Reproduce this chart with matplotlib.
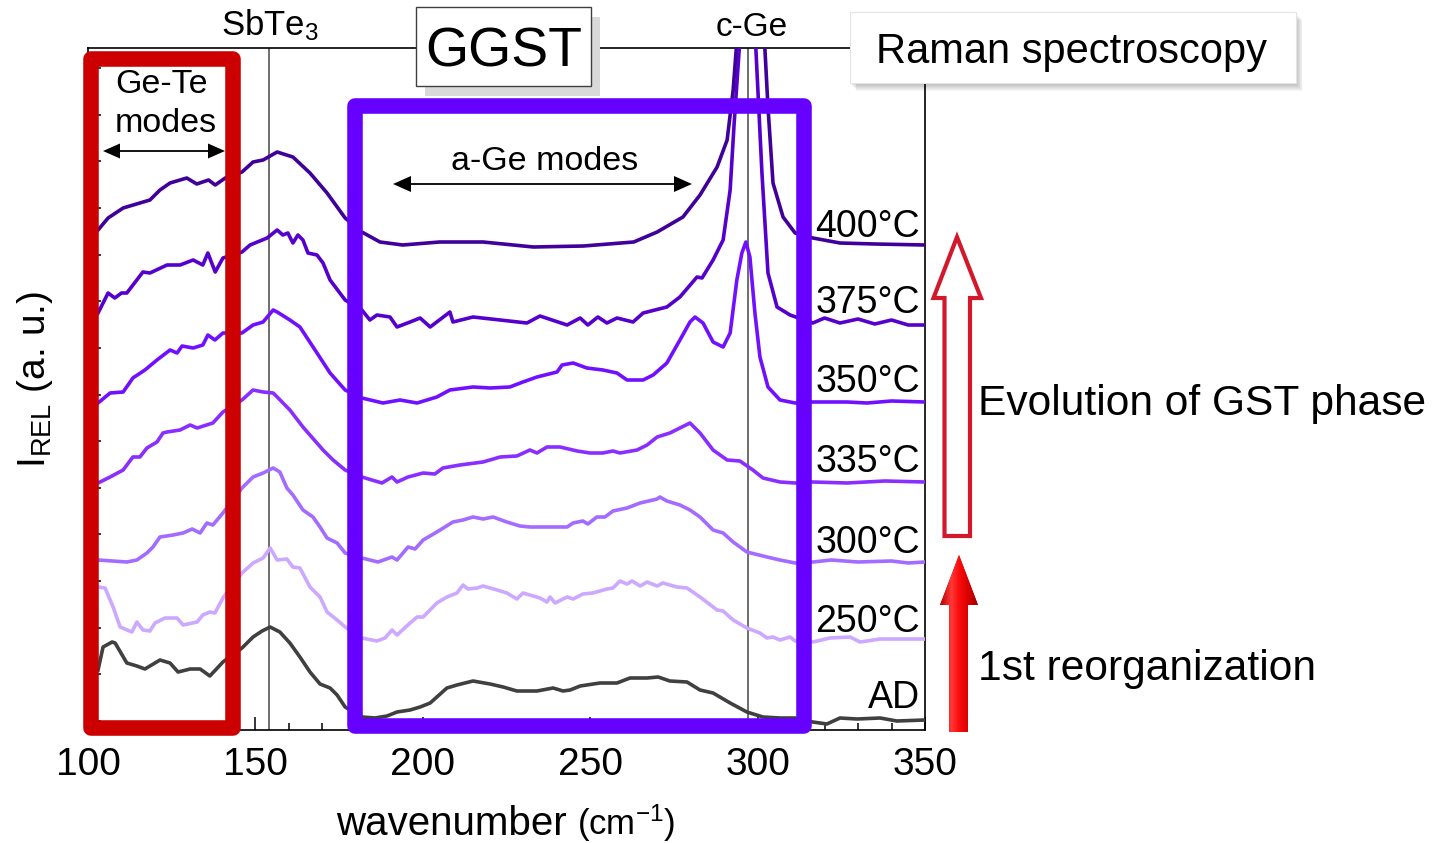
import numpy as np
import matplotlib
matplotlib.use("Agg")
import matplotlib.pyplot as plt
from matplotlib.patches import Rectangle, Polygon

plt.rcParams['font.family'] = ['Liberation Sans', 'DejaVu Sans']
plt.rcParams['mathtext.fontset'] = 'custom'
plt.rcParams['mathtext.rm'] = 'Liberation Sans'
plt.rcParams['mathtext.it'] = 'Liberation Sans:italic'
plt.rcParams['mathtext.bf'] = 'Liberation Sans:bold'

# ---------------- data (wavenumber in cm-1, intensity in a.u.) ----------------
labels = ['AD', '250°C', '300°C', '335°C', '350°C', '375°C', '400°C']

wn_ad = [103, 104.5, 107.2, 108.1, 111.6, 114.6, 117, 121.5, 124.5, 126.9, 130.5, 133.5, 136.4, 140.3, 146,
         149.3, 152, 154.4, 157.3, 160.3, 163.3, 166.3, 169.3, 172.3, 174.4, 176.8, 181.8, 185.7, 189.3, 192.3,
         196.2, 199.2, 202.2, 207.2, 210.2, 215, 220.1, 224, 228.1, 234.1, 238.9, 241.9, 244, 247, 252.9, 258,
         261.9, 267, 270.3, 273.8, 278.9, 282.8, 286.7, 291.8, 296.8, 301.6, 306.7, 311.2, 316.5, 320.7, 324.6,
         329.7, 336.6, 341.6, 350]
I_ad = [6.0, 8.3, 8.8, 8.7, 6.7, 6.4, 6.1, 7.0, 6.7, 5.8, 6.1, 6.1, 5.4, 6.8, 8.2, 9.3, 9.9, 10.3, 9.8, 8.7,
        7.3, 5.8, 4.6, 4.2, 3.5, 2.3, 1.3, 1.2, 1.4, 1.8, 2.0, 2.3, 2.7, 4.2, 4.5, 4.9, 4.6, 4.3, 3.9, 3.9,
        4.2, 3.9, 4.0, 4.4, 4.7, 4.7, 5.2, 5.2, 5.3, 4.9, 4.8, 4.0, 3.7, 2.7, 1.8, 1.3, 1.2, 1.2, 0.8, 0.6,
        1.2, 1.1, 1.2, 0.9, 1.0]

wn_250 = [103, 105.1, 107.5, 109.6, 113.1, 114.6, 116.4, 118.5, 120, 123, 126.6, 128.4, 132.6, 134.3, 136.4,
          137.9, 140.3, 146, 149.3, 152.3, 154.4, 156.5, 159.4, 161.2, 163.3, 166.3, 169.3, 171.4, 174.4, 176.8,
          181.8, 186.3, 188.7, 190.8, 192.3, 196.2, 198.3, 200.1, 204.2, 207.2, 210.2, 212, 213.5, 216.2, 218,
          222.2, 225.1, 228.1, 229.9, 235, 237.1, 238, 239.5, 243.1, 244.9, 247.8, 250.8, 255, 256.8, 258.9,
          261, 262.5, 264.9, 267, 270, 271.7, 275.9, 278.9, 282.8, 287.9, 289.7, 292.7, 296.8, 300.7, 302.8,
          304.6, 306.7, 309.7, 311.2, 316.5, 321.6, 327.6, 330.6, 336.6, 343, 350]
I_250 = [14.3, 14.2, 12.3, 10.3, 9.8, 10.8, 10.0, 9.9, 10.7, 11.2, 11.2, 10.5, 10.8, 11.5, 11.8, 11.7, 13.2,
         15.7, 16.7, 17.2, 18.2, 17.0, 17.1, 16.3, 16.2, 14.3, 13.3, 11.8, 11.0, 10.3, 9.2, 8.9, 9.2, 10.0,
         9.5, 10.7, 11.3, 11.3, 12.7, 13.3, 13.7, 14.5, 14.1, 14.2, 14.4, 14.0, 13.7, 13.1, 13.7, 13.2, 12.8,
         13.3, 12.7, 13.3, 13.1, 13.6, 13.7, 14.1, 14.2, 14.9, 14.6, 14.9, 14.4, 14.8, 14.4, 14.7, 14.3, 14.2,
         13.3, 12.0, 11.9, 11.0, 10.2, 9.7, 9.2, 9.3, 9.0, 9.3, 8.9, 8.8, 9.2, 9.3, 8.8, 9.1, 9.1, 9.1]

wn_300 = [103, 111.6, 114.6, 117.6, 119.4, 121.5, 125.4, 128.4, 131.1, 133.5, 135.5, 137.3, 140.3, 146, 149.3,
          152.3, 155.3, 157.3, 159.4, 161.2, 164.2, 167.2, 169.3, 171.4, 174.4, 176.8, 181.8, 186.6, 190.8,
          192.3, 195.6, 197.7, 200.1, 204.2, 209, 212, 215, 218, 221, 225.1, 229, 232, 238, 243.1, 244.9, 247.8,
          249.3, 252, 254.4, 256.8, 261, 264.9, 270, 270.8, 272.9, 276.8, 279.8, 282.8, 286.7, 289.7, 292.7,
          296.8, 302.8, 306.7, 311.2, 316.5, 322, 330, 340, 345, 350]
I_300 = [17.0, 16.8, 17.0, 17.7, 18.3, 19.3, 19.5, 19.7, 20.1, 19.7, 20.7, 20.5, 21.7, 24.2, 25.3, 25.7, 26.2,
         25.8, 24.2, 23.5, 22.0, 21.3, 20.3, 19.2, 18.7, 17.7, 17.2, 16.8, 17.3, 17.0, 18.3, 18.1, 19.0, 19.8,
         20.8, 21.0, 21.3, 21.1, 21.3, 20.8, 20.4, 20.3, 20.3, 20.3, 20.7, 20.9, 20.6, 21.3, 21.3, 21.9, 22.2,
         22.7, 23.1, 23.3, 22.9, 22.5, 22.0, 21.3, 20.0, 19.7, 18.8, 17.8, 17.3, 17.0, 16.7, 16.8, 17.0, 16.8,
         16.9, 16.7, 16.8]

wn_335 = [103, 106.6, 110.5, 113.4, 115.5, 117.6, 120.6, 122.4, 123.6, 127.5, 130.5, 132.6, 137.3, 140.3, 146,
          149.3, 152.3, 155.3, 156.5, 160.3, 164.2, 170.2, 173.2, 176.8, 181.8, 187.8, 190.8, 192.3, 195.6,
          200.1, 203.6, 206, 211.1, 218, 223.1, 228.1, 232, 234.1, 237.1, 241, 246.1, 249.9, 253.8, 256.8,
          258.9, 264, 267, 270, 273.8, 276.8, 279.8, 282.8, 286.7, 290.9, 294.7, 298.6, 301.6, 306.7, 311.2,
          316.5, 326.7, 338, 350]
I_335 = [24.7, 25.3, 26.0, 27.3, 27.3, 28.2, 28.8, 29.7, 29.8, 30.0, 30.5, 30.2, 30.7, 31.8, 33.0, 34.0, 33.8,
         33.7, 33.3, 32.0, 30.3, 28.0, 27.0, 26.0, 25.3, 24.7, 25.3, 24.8, 25.3, 25.7, 25.6, 26.2, 26.5, 26.8,
         27.3, 27.4, 28.0, 27.7, 28.3, 28.3, 27.9, 27.7, 27.7, 27.9, 27.7, 28.0, 28.5, 29.3, 29.7, 30.2, 30.7,
         29.7, 28.0, 27.0, 26.9, 26.0, 25.2, 24.8, 24.7, 24.8, 24.7, 24.9, 24.8]

wn_350 = [103, 106.6, 110.5, 113.4, 117, 120.6, 124.5, 126.6, 128.1, 131.4, 134.3, 135.8, 137.9, 140.3, 146,
          149.3, 152.3, 155.3, 156.5, 160.3, 163.3, 168.4, 172.3, 176.8, 181.8, 188.1, 193.2, 198.3, 204.2,
          208.1, 215, 220.1, 226, 229.9, 234.1, 240.1, 241.6, 244.9, 249, 253.8, 258, 261, 265.8, 268.8, 272.9,
          276.8, 279.8, 281.3, 283.7, 286.7, 289.7, 291.8, 293.8, 295.3, 296.5, 297.7, 299.2, 300.7, 303.1,
          306.7, 311.2, 316.5, 326.7, 332.7, 340, 350]
I_350 = [32.7, 33.7, 33.8, 35.2, 36.0, 37.0, 38.0, 37.7, 38.4, 38.2, 38.5, 39.5, 39.0, 39.7, 39.7, 40.5, 40.8,
         42.0, 41.8, 41.0, 40.3, 37.7, 35.7, 34.0, 33.2, 32.7, 33.0, 32.7, 33.3, 34.0, 34.3, 34.2, 34.3, 34.8,
         35.3, 35.8, 36.5, 36.7, 36.2, 36.0, 35.7, 35.0, 35.0, 35.5, 36.7, 39.0, 40.8, 41.3, 40.7, 38.8, 38.3,
         39.7, 45.0, 47.7, 48.8, 47.3, 41.7, 37.3, 34.3, 33.0, 32.7, 32.8, 32.8, 32.7, 32.9, 32.8]

wn_375 = [103, 106, 108, 110, 111.6, 116.4, 118.5, 123.6, 127.5, 131.4, 134.3, 135.8, 138, 140.3, 146, 148.4,
          153.5, 156.5, 158.2, 159.7, 161.2, 162.7, 164.2, 165.7, 168.4, 170.2, 172.3, 176.8, 181.8, 184.2,
          186.3, 190.2, 192.3, 196.2, 199.2, 202.2, 208.1, 209, 215, 223.1, 231.1, 235, 243.1, 247, 249.3,
          252.3, 255, 258, 262.8, 265.8, 272.9, 276.8, 281.9, 283.4, 286.7, 289.7, 291.8, 293.0, 294.5, 297,
          299.5, 301.3, 303.1, 305.8, 309.7, 316.5, 320, 324.6, 330, 335, 340, 345, 350]
I_375 = [41.7, 43.7, 43.2, 43.7, 43.7, 45.8, 45.7, 46.5, 46.5, 47.0, 46.5, 47.7, 45.8, 47.2, 47.8, 48.5, 49.2,
         50.0, 49.5, 49.7, 48.7, 49.5, 49.0, 47.7, 47.5, 46.7, 45.0, 43.0, 42.0, 41.0, 41.5, 41.3, 40.3, 40.8,
         41.2, 40.3, 41.8, 40.8, 41.3, 41.0, 40.7, 41.4, 40.5, 41.2, 40.5, 41.3, 40.7, 41.2, 40.8, 41.7, 42.3,
         43.3, 45.3, 45.2, 47.0, 49.0, 54.0, 60.7, 68.0, 95.0, 68.0, 55.7, 45.7, 42.3, 41.5, 40.7, 41.2, 40.7,
         41.1, 40.6, 41.0, 40.5, 40.5]

wn_400 = [103, 106, 110.5, 118.5, 121.5, 124.5, 129.5, 132.5, 136, 138, 141, 146, 149.3, 152.3, 156.5, 161.2,
          166.3, 171.4, 176.8, 181.8, 187.2, 194, 205, 218, 233, 248, 263, 270, 277.7, 282.8, 287.9, 290.9,
          292.7, 293.6, 297.5, 302.2, 303.1, 304.6, 307.6, 311.2, 316.5, 324.6, 335, 350]
I_400 = [50.0, 51.2, 52.2, 53.0, 54.0, 54.7, 55.2, 54.6, 55.0, 54.5, 55.2, 55.8, 56.8, 57.0, 57.8, 57.3, 55.7,
         53.7, 51.2, 49.8, 48.8, 48.5, 48.8, 48.8, 48.3, 48.4, 48.8, 49.8, 51.3, 53.5, 56.3, 59.0, 64.0, 68.0,
         95.0, 68.0, 62.3, 54.7, 51.3, 49.7, 49.2, 48.7, 48.6, 48.5]

series_wn = [wn_ad, wn_250, wn_300, wn_335, wn_350, wn_375, wn_400]
series_I = [I_ad, I_250, I_300, I_335, I_350, I_375, I_400]
mode_lines = [154, 297]   # SbTe3 and c-Ge positions (cm-1)

# ---------------- styling ----------------
colors = ['#404040', '#CCA8FF', '#A36BFF', '#8A2EFF', '#7010FF', '#5500CC', '#40009A']
W, H = 1432, 843
fig = plt.figure(figsize=(W / 100, H / 100), dpi=100)
ax = fig.add_axes([88 / W, 1 - 730 / H, 837 / W, 682 / H])

for v in mode_lines:
    ax.axvline(v, color='#555555', lw=1.2, zorder=2)
for wn, I, c in zip(series_wn, series_I, colors):
    ax.plot(wn, I, color=c, lw=2.6, solid_joinstyle='round', zorder=3)

ax.set_xlim(100, 350)
ax.set_ylim(0, 68.2)
ax.set_xticks(np.arange(100, 351, 50))
ax.set_xticks(np.arange(100, 351, 10), minor=True)
ax.set_yticks(0.9 + 4.664 * np.arange(15))
ax.set_yticklabels([])
ax.tick_params(axis='both', which='major', direction='in', length=9.4, width=1.1,
               labelsize=28, pad=12)
ax.tick_params(axis='x', which='minor', direction='in', length=5, width=1.1)
for s in ax.spines.values():
    s.set_linewidth(1.2)

# overlay in pixel coordinates for annotations
ov = fig.add_axes([0, 0, 1, 1], zorder=10)
ov.set_autoscale_on(False)
ov.set_xlim(0, W)
ov.set_ylim(H, 0)
ov.axis('off')

# highlight boxes
ov.add_patch(Rectangle((90.5, 58.5), 142, 669.5, fill=False, ec='#CC0000', lw=11.2, joinstyle='round'))
ov.add_patch(Rectangle((354.5, 105.5), 449, 620, fill=False, ec='#6600FF', lw=11.2, joinstyle='round'))

# double arrows
def double_arrow(x0, x1, y, hl, hw):
    ov.plot([x0 + hl, x1 - hl], [y, y], color='black', lw=1.3, solid_capstyle='butt')
    ov.add_patch(Polygon([(x0, y), (x0 + hl, y - hw), (x0 + hl, y + hw)], closed=True, fc='black', ec='none'))
    ov.add_patch(Polygon([(x1, y), (x1 - hl, y - hw), (x1 - hl, y + hw)], closed=True, fc='black', ec='none'))

double_arrow(103, 225, 151, 17, 7.5)
double_arrow(393, 692, 184, 18, 8)

ov.text(161.5, 93, 'Ge-Te', ha='center', va='baseline', fontsize=24.5)
ov.text(166, 132, 'modes', ha='center', va='baseline', fontsize=24.5)
ov.text(545, 170, 'a-Ge modes', ha='center', va='baseline', fontsize=24.5)

ov.text(270, 35, r'SbTe$_{\mathregular{3}}$', ha='center', va='baseline', fontsize=25)
ov.text(752, 36, 'c-Ge', ha='center', va='baseline', fontsize=24)

# GGST box with hard shadow
ov.add_patch(Rectangle((425, 17), 175, 79, fc='#D9D9D9', ec='none'))
ov.add_patch(Rectangle((416, 7), 175, 79, fc='white', ec='#404040', lw=1))
ov.text(504, 66.5, 'GGST', ha='center', va='baseline', fontsize=40)

# Raman box with soft shadow
for i in range(7):
    ov.add_patch(Rectangle((851 + i * 0.9, 14 + i * 1.0), 446, 71, fc='black', alpha=0.035, ec='none'))
ov.add_patch(Rectangle((850, 12), 446, 71, fc='white', ec='#E4E4E4', lw=0.8))
ov.text(1072, 63, 'Raman spectroscopy', ha='center', va='baseline', fontsize=30)

# temperature labels
label_base = [708, 632, 553, 472, 392, 313, 237]
for lab, yb in zip(labels, label_base):
    ov.text(920, yb, lab, ha='right', va='baseline', fontsize=27)

# hollow arrow (Evolution of GST phase)
hollow = [(957, 237), (981, 298), (970, 298), (970, 536), (944.5, 536), (944.5, 298), (933.5, 298)]
ov.add_patch(Polygon(hollow, closed=True, fc='white', ec='#D3182B', lw=3, joinstyle='miter'))
ov.text(978, 415, 'Evolution of GST phase', ha='left', va='baseline', fontsize=30.6)

# solid gradient arrow (1st reorganization)
solid = [(959, 555), (978, 605), (968, 605), (968, 732), (949, 732), (949, 605), (940, 605)]
poly = Polygon(solid, closed=True, fc='#E00000', ec='none')
ov.add_patch(poly)
xs = np.linspace(0, 1, 80)
r = np.interp(xs, [0, 0.3, 0.5, 0.75, 1], [0.72, 1.0, 0.98, 0.85, 0.62])
g = np.interp(xs, [0, 0.3, 0.5, 0.75, 1], [0.0, 0.22, 0.05, 0.0, 0.0])
b = np.interp(xs, [0, 0.3, 0.5, 0.75, 1], [0.0, 0.22, 0.05, 0.0, 0.0])
grad = np.dstack([r, g, b])
im = ov.imshow(grad, extent=[940, 978, 732, 555], aspect='auto', zorder=4, interpolation='bilinear')
im.set_clip_path(poly)
ov.text(978, 680, '1st reorganization', ha='left', va='baseline', fontsize=30.6)

# axis labels
ov.text(35, 379, r'I$_{\mathregular{REL}}$ (a. u.)', rotation=90, ha='center', va='center', fontsize=28)
ov.text(336, 835, 'wavenumber', ha='left', va='baseline', fontsize=29)
ov.text(577, 835, r'(cm$^{\mathregular{-1}}$)', ha='left', va='baseline', fontsize=25)

ov.set_xlim(0, W)
ov.set_ylim(H, 0)
fig.savefig('out.png', dpi=100)
